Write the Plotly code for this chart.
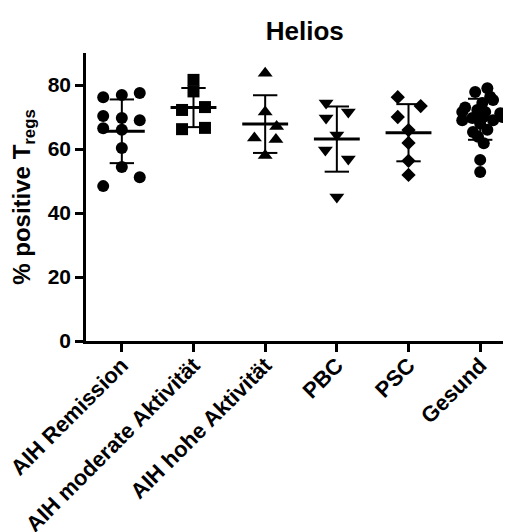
import numpy as np
import plotly.graph_objects as go

categories = ["AIH Remission", "AIH moderate Aktivität", "AIH hohe Aktivität", "PBC", "PSC", "Gesund"]

remission = [76.2, 76.9, 77.5, 70.3, 69.7, 69.0, 66.5, 66.0, 60.3, 54.4, 51.2, 48.4]
moderate = [81.6, 78.0, 72.2, 73.1, 66.2, 66.6]
hohe = [83.7, 71.6, 67.0, 63.4, 63.0, 58.0]
pbc = [74.4, 71.6, 69.7, 64.4, 59.7, 56.9, 45.0]
psc = [76.2, 73.4, 70.0, 65.9, 61.9, 56.3, 51.9]
gesund = [79.0, 76.3, 74.4, 75.3, 73.0, 71.6, 72.2, 71.6, 71.2, 69.7, 70.0, 70.0,
          69.0, 69.0, 68.0, 65.3, 66.0, 63.8, 56.6, 52.8, 77.8, 61.8]

y_ticks = [0, 20, 40, 60, 80]

# horizontal scatter offsets (category units), one per point
jitter = [
    [-0.26, 0.0, 0.25, -0.26, 0.0, 0.25, -0.26, 0.0, 0.0, 0.0, 0.25, -0.26],
    [0.0, 0.0, -0.16, 0.16, -0.16, 0.16],
    [0.0, 0.0, 0.16, -0.15, 0.15, 0.0],
    [-0.15, 0.16, -0.15, 0.0, -0.16, 0.16, 0.0],
    [-0.15, 0.17, -0.15, 0.0, 0.0, 0.0, 0.0],
    [0.10, 0.14, 0.03, 0.18, -0.21, -0.25, -0.04, 0.07, 0.28, -0.11, 0.04, 0.31,
     -0.25, 0.18, 0.0, -0.10, 0.10, -0.03, 0.0, 0.0, -0.07, 0.05],
]

groups = [remission, moderate, hohe, pbc, psc, gesund]
symbols = ["circle", "square", "triangle-up", "triangle-down", "diamond", "circle"]
sizes = [12, 12, 13, 13, 11, 12]

FONT = "Liberation Sans, Arial, sans-serif"

fig = go.Figure()

mean_x, mean_y, sd_x, sd_y = [], [], [], []
for i, vals in enumerate(groups):
    v = np.array(vals)
    m = v.mean()
    s = v.std(ddof=1)
    mean_x += [i - 0.32, i + 0.32, None]
    mean_y += [m, m, None]
    sd_x += [i, i, None, i - 0.17, i + 0.17, None, i - 0.17, i + 0.17, None]
    sd_y += [m - s, m + s, None, m + s, m + s, None, m - s, m - s, None]

for i, vals in enumerate(groups):
    fig.add_trace(go.Scatter(
        x=[i + j for j in jitter[i]], y=vals, mode="markers",
        marker=dict(symbol=symbols[i], size=sizes[i], color="black", line=dict(width=0)),
        cliponaxis=False, showlegend=False, hoverinfo="y"))

fig.add_trace(go.Scatter(x=sd_x, y=sd_y, mode="lines",
                         line=dict(color="black", width=2), showlegend=False, hoverinfo="skip"))
fig.add_trace(go.Scatter(x=mean_x, y=mean_y, mode="lines",
                         line=dict(color="black", width=3), showlegend=False, hoverinfo="skip"))

fig.update_layout(
    width=503, height=524,
    margin=dict(l=78, r=0, t=45, b=191, autoexpand=False),
    paper_bgcolor="white", plot_bgcolor="white",
    font=dict(family=FONT, color="black"),
    title=dict(text="Helios", x=0.59, xanchor="center", y=0.957, yanchor="middle",
               font=dict(size=26, weight="bold", family=FONT, color="black")),
    xaxis=dict(range=[-0.5, 5.43], tickmode="array", tickvals=list(range(len(categories))),
               ticktext=categories, tickangle=-45, showgrid=False, zeroline=False,
               showline=True, linecolor="black", linewidth=2.5,
               ticks="outside", ticklen=8, tickwidth=2.5, tickcolor="black",
               ticklabeloverflow="allow", ticklabelstandoff=-8,
               tickfont=dict(size=22, weight="bold", family=FONT, color="black")),
    yaxis=dict(range=[0, 90], tickmode="array", tickvals=y_ticks, showgrid=False, zeroline=False,
               showline=True, linecolor="black", linewidth=2.5,
               ticks="outside", ticklen=8, tickwidth=2.5, tickcolor="black",
               tickfont=dict(size=21, weight="bold", family=FONT, color="black"),
               title=dict(text="% positive T<sub>regs</sub>", standoff=12,
                          font=dict(size=24, weight="bold", family=FONT, color="black"))),
)

fig.write_html("out.html")
